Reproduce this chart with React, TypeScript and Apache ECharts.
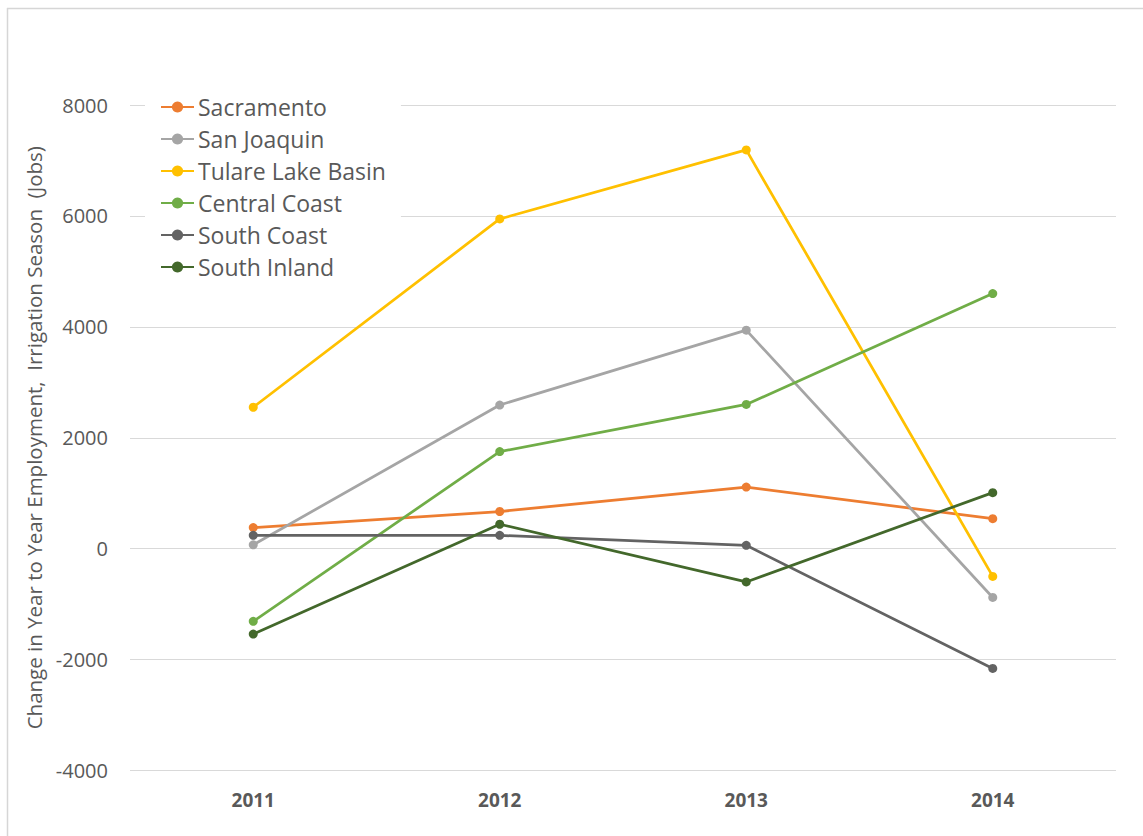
import React, { useEffect, useRef } from "react";
import * as echarts from "echarts";

const years = ["2011", "2012", "2013", "2014"];
const sacramento = [380, 670, 1110, 540];
const sanJoaquin = [70, 2590, 3940, -880];
const tulareLakeBasin = [2550, 5945, 7190, -500];
const centralCoast = [-1310, 1750, 2600, 4600];
const southCoast = [240, 240, 60, -2160];
const southInland = [-1540, 440, -600, 1010];

const seriesDefs = [
  { name: "Sacramento", data: sacramento, color: "#ED7D31" },
  { name: "San Joaquin", data: sanJoaquin, color: "#A5A5A5" },
  { name: "Tulare Lake Basin", data: tulareLakeBasin, color: "#FFC000" },
  { name: "Central Coast", data: centralCoast, color: "#70AD47" },
  { name: "South Coast", data: southCoast, color: "#636363" },
  { name: "South Inland", data: southInland, color: "#43682B" },
];

export default function App() {
  const ref = useRef<HTMLDivElement>(null);
  useEffect(() => {
    if (!ref.current) return;
    const chart = echarts.init(ref.current, null, { renderer: "svg" });
    chart.setOption({
      animation: false,
      backgroundColor: "#ffffff",
      textStyle: { fontFamily: "'Open Sans', sans-serif" },
      graphic: [
        {
          type: "line",
          shape: { x1: 7, y1: 8.5, x2: 1143, y2: 8.5 },
          style: { stroke: "#d6d6d6", lineWidth: 1.5 },
          silent: true,
        },
        {
          type: "line",
          shape: { x1: 7.5, y1: 8, x2: 7.5, y2: 836 },
          style: { stroke: "#d6d6d6", lineWidth: 1.5 },
          silent: true,
        },
      ],
      grid: { left: 130, right: 27, top: 105, bottom: 65.5, containLabel: false },
      legend: {
        orient: "vertical",
        left: 145,
        top: 86,
        padding: [5, 15, 10, 15],
        backgroundColor: "#ffffff",
        itemWidth: 33,
        itemHeight: 14,
        itemGap: 0,
        textStyle: {
          fontSize: 23,
          color: "#595959",
          lineHeight: 32,
          padding: [0, 0, 0, -1],
          fontFamily: "'Open Sans', sans-serif",
        },
        data: seriesDefs.map((s) => s.name),
      },
      xAxis: {
        type: "category",
        data: years,
        boundaryGap: true,
        axisLine: { show: false },
        axisTick: { show: false },
        axisLabel: {
          margin: 20,
          fontSize: 19,
          fontWeight: "bold",
          color: "#595959",
          fontFamily: "'Open Sans', sans-serif",
        },
      },
      yAxis: {
        type: "value",
        min: -4000,
        max: 8000,
        interval: 2000,
        name: "Change in Year to Year Employment,  Irrigation Season  (Jobs)",
        nameLocation: "middle",
        nameGap: 83,
        nameTextStyle: { fontSize: 20.5, color: "#595959", fontFamily: "'Open Sans', sans-serif" },
        axisLine: { show: false },
        axisTick: { show: false },
        axisLabel: {
          margin: 22,
          fontSize: 20,
          color: "#595959",
          fontFamily: "'Open Sans', sans-serif",
          formatter: (v: number) => String(v),
        },
        splitLine: { lineStyle: { color: "#d9d9d9", width: 1 } },
      },
      series: seriesDefs.map((s) => ({
        name: s.name,
        type: "line",
        data: s.data,
        symbol: "circle",
        symbolSize: 9,
        color: s.color,
        itemStyle: { color: s.color },
        lineStyle: { color: s.color, width: 2.75 },
      })),
    });
    return () => chart.dispose();
  }, []);
  return (
    <div
      ref={ref}
      style={{ position: "fixed", left: 0, top: 0, width: 1143, height: 836 }}
    />
  );
}
